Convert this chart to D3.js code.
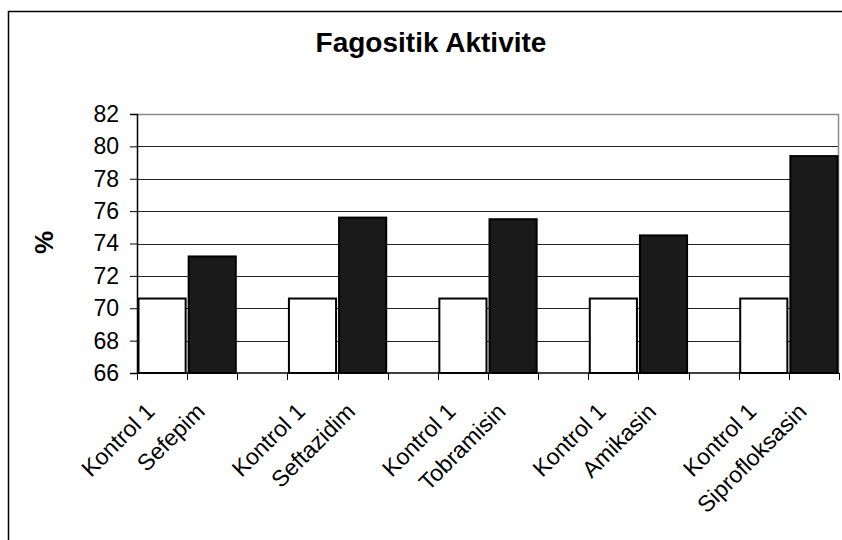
<!DOCTYPE html>
<html>
<head>
<meta charset="utf-8">
<script src="https://cdn.jsdelivr.net/npm/d3@7"></script>
<style>
  body { margin: 0; background: #fff; }
  svg { display: block; font-family: "Liberation Sans", Arial, sans-serif; }
</style>
</head>
<body>
<div class="svg-container"></div>
<script>
var width = 842;
var height = 540;

// 14 slots: control, drug, empty spacer, ...
var categories = ["Kontrol 1", "Sefepim", "",
                  "Kontrol 1", "Seftazidim", "",
                  "Kontrol 1", "Tobramisin", "",
                  "Kontrol 1", "Amikasin", "",
                  "Kontrol 1", "Siprofloksasin"];
var values = [70.6, 73.2, null,
              70.6, 75.6, null,
              70.6, 75.5, null,
              70.6, 74.5, null,
              70.6, 79.4];
var isControl = [true, false, null,
                 true, false, null,
                 true, false, null,
                 true, false, null,
                 true, false];
var yTicks = [66, 68, 70, 72, 74, 76, 78, 80, 82];

var plot = { left: 137, right: 839, top: 114, bottom: 373 };

var svg = d3.select(".svg-container")
            .append("svg")
            .attr("width", width)
            .attr("height", height);

// outer chart frame (runs off the right and bottom edges)
svg.append("rect")
   .attr("x", 8.5)
   .attr("y", 11.5)
   .attr("width", 860)
   .attr("height", 560)
   .attr("fill", "none")
   .attr("stroke", "#000")
   .attr("stroke-width", 1.5);

var idx = d3.range(categories.length);

var scaleX = d3.scaleBand()
               .domain(idx)
               .range([plot.left, plot.right])
               .paddingInner(0.06)
               .paddingOuter(0.03);

var scaleY = d3.scaleLinear()
               .domain([66, 82])
               .range([plot.bottom, plot.top]);

// gridlines
svg.append("g")
   .selectAll("line")
   .data(yTicks.slice(1, -1))
   .enter()
   .append("line")
   .attr("x1", plot.left)
   .attr("x2", plot.right)
   .attr("y1", function(d) { return Math.round(scaleY(d)) + 0.5; })
   .attr("y2", function(d) { return Math.round(scaleY(d)) + 0.5; })
   .attr("stroke", "#222")
   .attr("stroke-width", 1);

// plot area border (grey)
svg.append("path")
   .attr("d", "M" + plot.left + "," + (plot.top + 0.5) + "H" + (plot.right - 0.5) + "V" + plot.bottom)
   .attr("fill", "none")
   .attr("stroke", "#8c8c8c")
   .attr("stroke-width", 1.5);

// bars
svg.append("g")
   .selectAll("rect")
   .data(idx.filter(function(i) { return values[i] !== null; }))
   .enter()
   .append("rect")
   .attr("x", function(i) { return scaleX(i); })
   .attr("width", scaleX.bandwidth())
   .attr("y", function(i) { return scaleY(values[i]); })
   .attr("height", function(i) { return scaleY(66) - scaleY(values[i]); })
   .attr("fill", function(i) { return isControl[i] ? "#fff" : "#1a1a1a"; })
   .attr("stroke", "#000")
   .attr("stroke-width", 2);

// y axis
var yAxis = svg.append("g")
   .attr("transform", "translate(" + plot.left + ",0)")
   .call(d3.axisLeft(scaleY).tickValues(yTicks).tickSize(7).tickPadding(11));
yAxis.select(".domain").attr("stroke", "#000").attr("stroke-width", 1.5);
yAxis.selectAll(".tick line").attr("stroke", "#000");
yAxis.selectAll("text")
     .attr("font-size", 23)
     .attr("font-family", "Liberation Sans, Arial, sans-serif")
     .attr("fill", "#000");

// x axis: ticks at slot boundaries
var step = (plot.right - plot.left) / categories.length;
var xAxis = svg.append("g");
xAxis.append("line")
     .attr("x1", plot.left)
     .attr("x2", plot.right)
     .attr("y1", plot.bottom)
     .attr("y2", plot.bottom)
     .attr("stroke", "#000")
     .attr("stroke-width", 1.5);
xAxis.selectAll(".xtick")
     .data(d3.range(categories.length + 1))
     .enter()
     .append("line")
     .attr("class", "xtick")
     .attr("x1", function(i) { return Math.round(plot.left + i * step) + 0.5; })
     .attr("x2", function(i) { return Math.round(plot.left + i * step) + 0.5; })
     .attr("y1", plot.bottom)
     .attr("y2", plot.bottom + 7)
     .attr("stroke", "#000");

// rotated category labels
xAxis.selectAll(".xlabel")
     .data(idx.filter(function(i) { return categories[i] !== ""; }))
     .enter()
     .append("text")
     .attr("class", "xlabel")
     .attr("transform", function(i) {
         var cx = scaleX(i) + scaleX.bandwidth() / 2;
         return "translate(" + (cx - 6) + "," + (plot.bottom + 40) + ") rotate(-45)";
     })
     .attr("text-anchor", "end")
     .attr("font-size", 23)
     .attr("fill", "#000")
     .text(function(i) { return categories[i]; });

// title
svg.append("text")
   .attr("x", 431)
   .attr("y", 52)
   .attr("text-anchor", "middle")
   .attr("font-size", 28)
   .attr("font-weight", "bold")
   .text("Fagositik Aktivite");

// y label
svg.append("text")
   .attr("transform", "translate(53,242.5) rotate(-90)")
   .attr("text-anchor", "middle")
   .attr("font-size", 26)
   .attr("font-weight", "bold")
   .text("%");
</script>
</body>
</html>
